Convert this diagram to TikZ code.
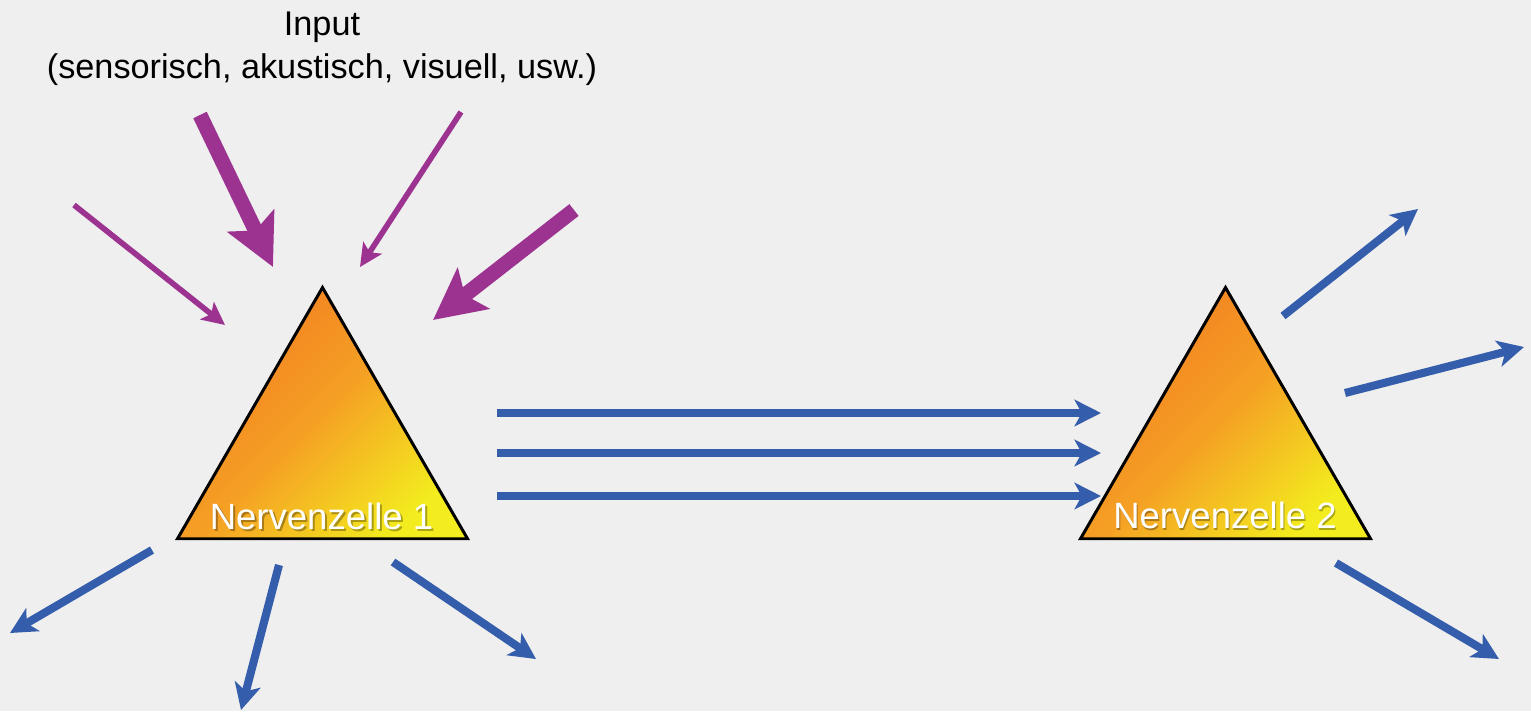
\documentclass[tikz,border=0pt]{standalone}
\usepackage{fontspec}
\setmainfont{Liberation Sans}
\definecolor{bggray}{RGB}{239,239,239}
\definecolor{nzorange}{RGB}{241,124,34}
\definecolor{nzamber}{RGB}{245,160,36}
\definecolor{nzyellow}{RGB}{243,236,30}
\definecolor{inpurple}{RGB}{156,51,145}
\definecolor{outblue}{RGB}{52,93,171}
\usetikzlibrary{shapes.geometric, arrows.meta, positioning}

\begin{document}
\begin{tikzpicture}[x=0.02cm, y=-0.02cm,
  neuron/.style={draw=black, line width=1.7pt, regular polygon, regular polygon sides=3,
    minimum size=6.7cm, inner sep=0pt, top color=nzorange, bottom color=nzyellow,
    middle color=nzamber, shading angle=45},
  nzlabel/.style={text=white, anchor=base, inner sep=0pt, font=\fontsize{20.8}{24}\selectfont},
  nzshadow/.style={nzlabel, text=black, opacity=0.3},
  inthin/.style={draw=inpurple, line width=3.2pt, -{Stealth[length=13pt, width=12.5pt, inset=3pt]}},
  inthick/.style={draw=inpurple, line width=8.5pt, -{Stealth[length=29pt, width=29pt, inset=6pt]}},
  outarrow/.style={draw=outblue, line width=4.6pt, -{Stealth[length=15pt, width=15pt, inset=4pt]}}]

\fill[bggray] (0,0) rectangle (1531,711);
\useasboundingbox (0,0) rectangle (1531,711);

% the two cells
\node[neuron] (nz1) at (322.5,455) {};
\node[neuron] (nz2) at (1225.5,455) {};
\node[nzshadow] (lab1s) at (323.5,531) {Nervenzelle 1};
\node[nzlabel] (lab1) at (321.5,529.5) {Nervenzelle 1};
\node[nzshadow] (lab2s) at (1226,530) {Nervenzelle 2};
\node[nzlabel] (lab2) at (1225,528.5) {Nervenzelle 2};

\node[align=center, font=\fontsize{19.5}{24.4}\selectfont] (input) at (322,49) {Input\\(sensorisch, akustisch, visuell, usw.)};

% input arrows
\coordinate (in1a) at (74,205);   \coordinate (in1b) at (225,325);
\coordinate (in2a) at (200,115);  \coordinate (in2b) at (273,267);
\coordinate (in3a) at (461,112);  \coordinate (in3b) at (360,267);
\coordinate (in4a) at (574,210);  \coordinate (in4b) at (433,320);
\draw[inthin] (in1a) -- (in1b);
\draw[inthick] (in2a) -- (in2b);
\draw[inthin] (in3a) -- (in3b);
\draw[inthick] (in4a) -- (in4b);

% links between the cells
\foreach \i/\y in {1/413, 2/453, 3/496} {
  \coordinate (ln\i a) at (497,\y);
  \coordinate (ln\i b) at (1101,\y);
  \draw[outarrow] (ln\i a) -- (ln\i b);
}

% outputs
\coordinate (o1a) at (152,550);   \coordinate (o1b) at (10,633);
\coordinate (o2a) at (279,565);   \coordinate (o2b) at (241,710);
\coordinate (o3a) at (393,562);   \coordinate (o3b) at (536,659);
\coordinate (o4a) at (1283,316);  \coordinate (o4b) at (1418,209);
\coordinate (o5a) at (1345,393);  \coordinate (o5b) at (1524,347);
\coordinate (o6a) at (1336,563);  \coordinate (o6b) at (1499,659);
\foreach \i in {1,...,6}
  \draw[outarrow] (o\i a) -- (o\i b);
\end{tikzpicture}
\end{document}
